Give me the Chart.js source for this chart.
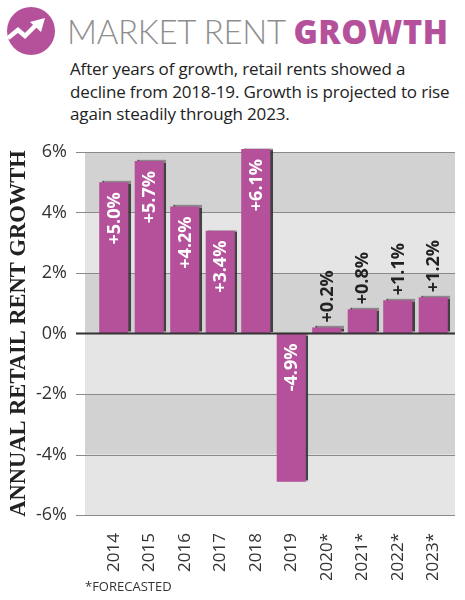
<!DOCTYPE html>
<html>
<head>
<meta charset="utf-8">
<script src="https://cdn.jsdelivr.net/npm/chart.js@4.4.1/dist/chart.umd.min.js"></script>
<style>
  body { margin: 0; width: 465px; height: 600px; background: #fff; position: relative; overflow: hidden; font-family: "Open Sans", sans-serif; }
  #icon { position: absolute; left: 7px; top: 7px; }
  #title { position: absolute; left: 67px; top: 10px; font-size: 33px; line-height: 42px; white-space: nowrap; }
  #title .thin { font-family: "Lato", sans-serif; font-weight: 300; color: #8e8e8e; letter-spacing: -0.3px; }
  #title .bold { font-family: "Open Sans", sans-serif; font-weight: 800; color: #b5519b; letter-spacing: 0.5px; }
  #sub { position: absolute; left: 70px; top: 58px; font-size: 17px; line-height: 22.5px; color: #222; letter-spacing: -0.15px; }
  #wrap { position: absolute; left: 0; top: 130px; width: 465px; height: 450px; }
  #foot { position: absolute; left: 85px; top: 577px; font-size: 13px; color: #333; }
</style>
</head>
<body>
<svg id="icon" width="48" height="48" viewBox="0 0 48 48">
  <circle cx="24" cy="24" r="24" fill="#b5519b"/>
  <polyline points="1,31 11,23 18,29 29,18" fill="none" stroke="#fff" stroke-width="4.5" stroke-linejoin="miter"/>
  <polygon points="23,15 38,11 34,25" fill="#fff"/>
</svg>
<div id="title"><span class="thin">MARKET RENT </span><span class="bold">GROWTH</span></div>
<div id="sub">After years of growth, retail rents showed a<br>decline from 2018-19. Growth is projected to rise<br>again steadily through 2023.</div>
<div id="wrap"><canvas id="myChart"></canvas></div>
<div id="foot">*FORECASTED</div>
<script>
// Market rent growth
const years = ['2014', '2015', '2016', '2017', '2018', '2019', '2020*', '2021*', '2022*', '2023*'];
const growth = [5.0, 5.7, 4.2, 3.4, 6.1, -4.9, 0.2, 0.8, 1.1, 1.2];
const yTicks = [-6, -4, -2, 0, 2, 4, 6];

const purple = '#b5519b';

// grey bands + grid lines behind the bars
const bands = {
    id: 'bands',
    beforeDatasetsDraw(chart) {
        const { ctx, chartArea } = chart;
        const y = chart.scales.y;
        const x0 = chartArea.left - 11;
        const x1 = chartArea.right + 4;
        ctx.save();
        for (let i = 0; i < yTicks.length - 1; i++) {
            const top = y.getPixelForValue(yTicks[i + 1]);
            const bot = y.getPixelForValue(yTicks[i]);
            ctx.fillStyle = i % 2 ? '#d2d2d2' : '#e5e5e5';
            ctx.fillRect(x0, top, x1 - x0, bot - top);
        }
        yTicks.forEach(t => {
            if (t === 0) return;
            const py = Math.round(y.getPixelForValue(t)) + 0.5;
            ctx.strokeStyle = '#8a8a8a';
            ctx.lineWidth = 1;
            ctx.beginPath();
            ctx.moveTo(x0 - 9, py);
            ctx.lineTo(x1, py);
            ctx.stroke();
        });
        ctx.restore();
        // bar shadow
        ctx.save();
        ctx.shadowColor = 'rgba(40,40,40,0.85)';
        ctx.shadowOffsetX = 2.5;
        ctx.shadowOffsetY = -1;
        ctx.shadowBlur = 1;
    },
    afterDatasetsDraw(chart) {
        const { ctx, chartArea } = chart;
        ctx.restore();
        const y = chart.scales.y;
        const py = y.getPixelForValue(0);
        ctx.save();
        ctx.strokeStyle = '#333';
        ctx.lineWidth = 2;
        ctx.beginPath();
        ctx.moveTo(chartArea.left - 20, py);
        ctx.lineTo(chartArea.right + 4, py);
        ctx.stroke();

        // value labels
        const meta = chart.getDatasetMeta(0);
        ctx.font = 'bold 18px "Open Sans", sans-serif';
        ctx.textBaseline = 'middle';
        meta.data.forEach((bar, i) => {
            const v = growth[i];
            const txt = (v > 0 ? '+' : '') + v.toFixed(1) + '%';
            ctx.save();
            ctx.translate(bar.x, 0);
            ctx.rotate(-Math.PI / 2);
            if (Math.abs(v) > 2) {
                ctx.fillStyle = '#fff';
                ctx.textAlign = 'right';
                const top = v > 0 ? bar.y : py;
                ctx.fillText(txt, -(top + 10), 1);
            } else {
                ctx.fillStyle = '#222';
                ctx.textAlign = 'left';
                ctx.fillText(txt, -(bar.y - 5), 1);
            }
            ctx.restore();
        });
        ctx.restore();
    }
};

const data = {
    labels: years,
    datasets: [{
        data: growth,
        backgroundColor: purple,
        borderWidth: 0,
        barPercentage: 0.82,
        categoryPercentage: 1.0,
        clip: false
    }]
};

const config = {
    type: 'bar',
    data: data,
    options: {
        responsive: true,
        maintainAspectRatio: false,
        animation: false,
        layout: { padding: { top: 22, right: 14, left: 0, bottom: 0 } },
        plugins: { legend: { display: false }, tooltip: { enabled: false } },
        scales: {
            x: {
                grid: { display: false },
                border: { display: false },
                afterFit(scale) { scale.height = 65; },
                ticks: {
                    minRotation: 90,
                    maxRotation: 90,
                    padding: 10,
                    color: '#333',
                    font: { family: '"Open Sans", sans-serif', size: 17 }
                }
            },
            y: {
                min: -6,
                max: 6,
                grid: {
                    display: true,
                    drawOnChartArea: false,
                    drawTicks: true,
                    tickLength: 26,
                    color: 'transparent',
                    tickColor: 'transparent'
                },
                border: { display: false },
                afterFit(scale) { scale.width = 96; },
                ticks: {
                    stepSize: 2,
                    padding: 3,
                    color: '#333',
                    font: { family: '"Open Sans", sans-serif', size: 18 },
                    callback: v => v + '%'
                },
                title: {
                    display: true,
                    text: 'ANNUAL RETAIL RENT GROWTH',
                    color: '#222',
                    padding: { top: 6, bottom: 0 },
                    font: { family: '"Liberation Serif", serif', size: 22.5, weight: 'bold' }
                }
            }
        }
    },
    plugins: [bands]
};

const myChart = new Chart(document.getElementById('myChart'), config);
</script>
</body>
</html>
